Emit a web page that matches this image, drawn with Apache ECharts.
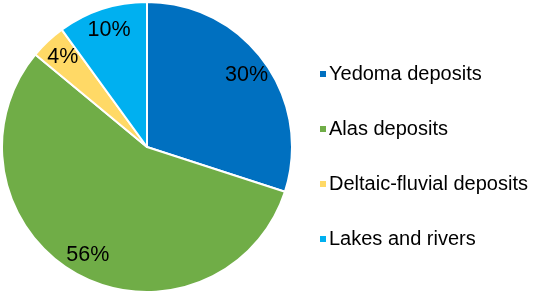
<!DOCTYPE html>
<html><head><meta charset="utf-8">
<script src="https://cdn.jsdelivr.net/npm/echarts@6/dist/echarts.min.js"></script>
<style>html,body{margin:0;padding:0;background:#fff}#c{width:533px;height:294px}</style>
</head><body><div id="c"></div>
<script>
const categories = ["Yedoma deposits", "Alas deposits", "Deltaic-fluvial deposits", "Lakes and rivers"];
const values = [30, 56, 4, 10];
const colors = ["#0070C0", "#70AD47", "#FFD966", "#00B0F0"];

const data = categories.map((n, i) => ({ name: n, value: values[i], itemStyle: { color: colors[i] } }));
const chart = echarts.init(document.getElementById('c'), null, { renderer: 'canvas' });
chart.setOption({
  animation: false,
  legend: {
    orient: 'vertical', left: 313, top: 59,
    itemWidth: 8, itemHeight: 8, itemGap: 35,
    icon: 'rect',
    textStyle: { fontFamily: 'Liberation Sans, Arial', fontSize: 20, color: '#000', padding: [0, 0, 0, -3] },
    data: categories
  },
  series: [
    {
      type: 'pie', center: [147, 147], radius: [0, 145], startAngle: 90, clockwise: true,
      label: { show: false }, labelLine: { show: false },
      itemStyle: { borderColor: '#fff', borderWidth: 2 },
      data: data
    },
    {
      type: 'pie', center: [147, 147], radius: [95, 145], startAngle: 90, clockwise: true,
      silent: true, legendHoverLink: false,
      itemStyle: { color: 'transparent', borderWidth: 0 },
      label: { show: true, position: 'inside', formatter: '{d}%', fontFamily: 'Liberation Sans, Arial', fontSize: 21.5, color: '#000' },
      labelLine: { show: false },
      data: categories.map((n, i) => ({ name: n + ' ', value: values[i] }))
    }
  ]
});
</script></body></html>
